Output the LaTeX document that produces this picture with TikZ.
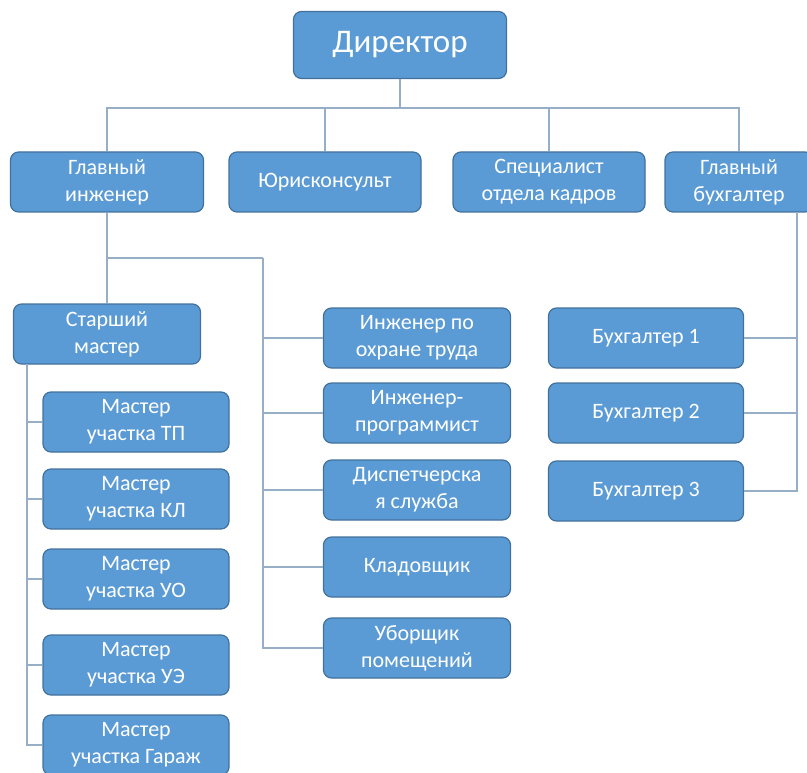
\documentclass[tikz,border=0pt]{standalone}
\usepackage{fontspec}
\setmainfont{Carlito}
\usepackage{tikz}
\usetikzlibrary{positioning}
\definecolor{boxfill}{HTML}{5B9BD5}
\definecolor{boxline}{HTML}{41719C}
\definecolor{linkgray}{HTML}{97AFC6}
\tikzset{unit node/.style={rectangle,rounded corners=8pt,fill=boxfill,draw=boxline,line width=1.2pt,text=white,align=center,inner sep=0pt,minimum height=60pt,font=\fontsize{22}{27}\selectfont},
  link/.style={draw=linkgray,line width=1.1pt}}

\begin{document}
\begin{tikzpicture}[x=1pt, y=-1pt]
    \useasboundingbox (0,0) rectangle (807,773);
		\node[unit node, minimum width=213pt, minimum height=67pt, font=\fontsize{33}{38}\selectfont] (dir) at (400,45) {Директор};

	    \node[unit node, minimum width=193pt] (gi) at (107,182) {Главный\\инженер};
	    \node[unit node, minimum width=192pt] (ur) at (325,182) {Юрисконсульт};
	    \node[unit node, minimum width=192pt] (sk) at (549,182) {Специалист\\отдела кадров};
	    \node[unit node, minimum width=148pt] (gb) at (739,182) {Главный\\бухгалтер};

	    \node[unit node, minimum width=187pt] (sm) at (107,334) {Старший\\мастер};
	    \node[unit node, minimum width=186pt] (m1) at (136,422) {Мастер\\участка ТП};
	    \node[unit node, minimum width=186pt] (m2) at (136,499) {Мастер\\участка КЛ};
	    \node[unit node, minimum width=186pt] (m3) at (136,579) {Мастер\\участка УО};
	    \node[unit node, minimum width=186pt] (m4) at (136,665) {Мастер\\участка УЭ};
	    \node[unit node, minimum width=186pt] (m5) at (136,745) {Мастер\\участка Гараж};

	    \node[unit node, minimum width=187pt] (io) at (417,338) {Инженер по\\охране труда};
	    \node[unit node, minimum width=187pt] (ip) at (417,413) {Инженер-\\программист};
	    \node[unit node, minimum width=187pt] (ds) at (417,490) {Диспетчерска\\я служба};
	    \node[unit node, minimum width=187pt] (kl) at (417,567) {Кладовщик};
	    \node[unit node, minimum width=187pt] (ub) at (417,648) {Уборщик\\помещений};

	    \node[unit node, minimum width=195pt] (b1) at (646,338) {Бухгалтер 1};
	    \node[unit node, minimum width=195pt] (b2) at (646,413) {Бухгалтер 2};
	    \node[unit node, minimum width=195pt] (b3) at (646,491) {Бухгалтер 3};

	    % junctions
	    \coordinate (j0) at (400,108);
	    \coordinate (j1) at (107,258);
	    \coordinate (j2) at (263,258);
	    \coordinate (j3) at (27,364);
	    \coordinate (j4) at (797,212);

	    \path[link] (dir.south) -- (j0);
	    \path[link] (j0) -| (gi.north);
	    \path[link] (j0) -| (ur.north);
	    \path[link] (j0) -| (sk.north);
	    \path[link] (j0) -| (gb.north);

	    \path[link] (gi.south) -- (j1) -- (sm.north);
	    \path[link] (j1) -- (j2);
	    \foreach \n in {io,ip,ds,kl,ub}
	        \path[link] (j2) |- (\n.west);

	    \foreach \n in {m1,m2,m3,m4,m5}
	        \path[link] (j3) |- (\n.west);

	    \foreach \n in {b1,b2,b3}
	        \path[link] (j4) |- (\n.east);
\end{tikzpicture}
\end{document}
